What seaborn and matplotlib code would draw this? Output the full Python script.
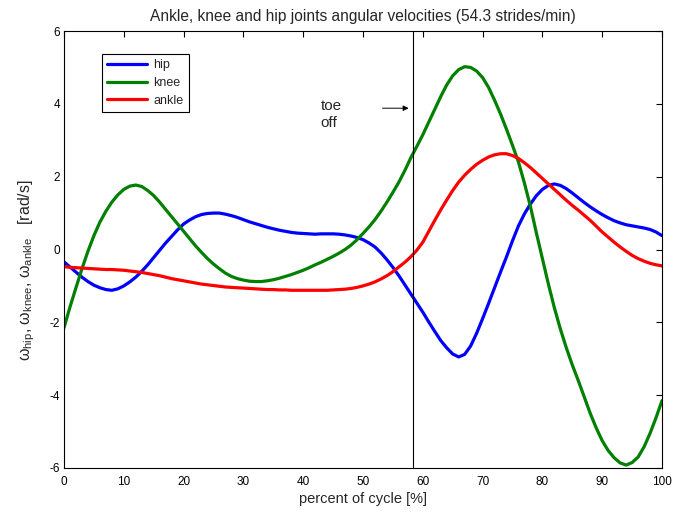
import numpy as np
import pandas as pd
import matplotlib
matplotlib.use("Agg")
import matplotlib.pyplot as plt
import seaborn as sns

percent = list(range(0, 101))

hip = [-0.34, -0.48, -0.62, -0.76, -0.88, -0.98, -1.05, -1.10, -1.12, -1.08,
       -1.00, -0.89, -0.76, -0.60, -0.42, -0.22, -0.02, 0.18, 0.36, 0.54,
       0.70, 0.81, 0.90, 0.96, 0.99, 1.00, 1.00, 0.97, 0.93, 0.88,
       0.82, 0.76, 0.71, 0.66, 0.61, 0.57, 0.53, 0.50, 0.47, 0.45,
       0.44, 0.43, 0.42, 0.43, 0.43, 0.43, 0.42, 0.40, 0.37, 0.33,
       0.27, 0.18, 0.07, -0.09, -0.28, -0.49, -0.72, -0.97, -1.22, -1.47,
       -1.72, -1.99, -2.25, -2.50, -2.70, -2.87, -2.95, -2.88, -2.65, -2.30,
       -1.90, -1.48, -1.05, -0.62, -0.20, 0.24, 0.65, 0.98, 1.25, 1.48,
       1.65, 1.76, 1.80, 1.76, 1.67, 1.55, 1.42, 1.29, 1.17, 1.06,
       0.96, 0.87, 0.79, 0.73, 0.68, 0.65, 0.62, 0.59, 0.55, 0.48, 0.38]

knee = [-2.15, -1.58, -1.05, -0.53, -0.05, 0.38, 0.75, 1.05, 1.30, 1.50,
        1.65, 1.74, 1.77, 1.73, 1.62, 1.48, 1.30, 1.10, 0.90, 0.70,
        0.50, 0.30, 0.10, -0.08, -0.25, -0.40, -0.53, -0.65, -0.74, -0.80,
        -0.84, -0.87, -0.88, -0.88, -0.86, -0.83, -0.79, -0.74, -0.69, -0.63,
        -0.57, -0.50, -0.42, -0.35, -0.27, -0.19, -0.10, 0.00, 0.12, 0.27,
        0.44, 0.62, 0.82, 1.05, 1.30, 1.57, 1.85, 2.17, 2.52, 2.83,
        3.15, 3.50, 3.85, 4.20, 4.52, 4.77, 4.94, 5.02, 5.00, 4.90,
        4.72, 4.45, 4.10, 3.72, 3.30, 2.86, 2.40, 1.82, 1.18, 0.45,
        -0.25, -0.95, -1.60, -2.18, -2.70, -3.17, -3.60, -4.05, -4.50, -4.90,
        -5.25, -5.52, -5.72, -5.86, -5.92, -5.85, -5.70, -5.42, -5.05, -4.62, -4.15]

ankle = [-0.47, -0.49, -0.50, -0.51, -0.52, -0.53, -0.54, -0.55, -0.55, -0.56,
         -0.57, -0.59, -0.61, -0.63, -0.66, -0.69, -0.72, -0.76, -0.80, -0.83,
         -0.86, -0.89, -0.92, -0.95, -0.97, -0.99, -1.01, -1.03, -1.04, -1.05,
         -1.06, -1.07, -1.08, -1.09, -1.10, -1.10, -1.11, -1.11, -1.12, -1.12,
         -1.12, -1.12, -1.12, -1.12, -1.12, -1.11, -1.10, -1.09, -1.07, -1.04,
         -1.00, -0.95, -0.89, -0.81, -0.72, -0.61, -0.48, -0.35, -0.20, -0.02,
         0.20, 0.50, 0.80, 1.09, 1.36, 1.62, 1.85, 2.04, 2.20, 2.34,
         2.45, 2.54, 2.60, 2.63, 2.63, 2.58, 2.50, 2.38, 2.25, 2.10,
         1.95, 1.80, 1.65, 1.50, 1.35, 1.21, 1.08, 0.94, 0.80, 0.64,
         0.48, 0.34, 0.20, 0.07, -0.05, -0.16, -0.25, -0.32, -0.38, -0.42, -0.45]

joints = ["hip", "knee", "ankle"]
colors = ["#0000FF", "#008000", "#FF0000"]
toe_off = 58.4
title = "Ankle, knee and hip joints angular velocities (54.3 strides/min)"
xlabel = "percent of cycle [%]"
ylabel = r"$\omega_{hip}$, $\omega_{knee}$, $\omega_{ankle}$   [rad/s]"
xticks = list(range(0, 101, 10))
yticks = list(range(-6, 7, 2))

df = pd.DataFrame({
    "percent": percent * 3,
    "omega": hip + knee + ankle,
    "joint": [j for j in joints for _ in percent],
})

sns.set_style("white")
plt.rcParams["font.family"] = ["Liberation Sans", "DejaVu Sans"]
plt.rcParams["mathtext.default"] = "regular"
plt.rcParams["axes.unicode_minus"] = False

fig = plt.figure(figsize=(6.88, 5.14), dpi=100)
ax = fig.add_axes([64/688, 46/514, 598/688, 437/514])

sns.lineplot(data=df, x="percent", y="omega", hue="joint", hue_order=joints,
             palette=colors, linewidth=2.3, ax=ax, sort=False)
for ln in ax.lines:
    ln.set_solid_joinstyle("round")
    ln.set_solid_capstyle("round")

ax.axvline(toe_off, color="black", linewidth=0.8)
ax.annotate("", xy=(toe_off - 0.3, 3.88), xytext=(52.8, 3.88),
            arrowprops=dict(arrowstyle="-|>", color="black", lw=0.7,
                            mutation_scale=8))
ax.text(42.9, 4.12, "toe\noff", fontsize=11, va="top", ha="left",
        linespacing=1.25)

ax.set_xlim(0, 100)
ax.set_ylim(-6, 6)
ax.set_xticks(xticks)
ax.set_yticks(yticks)
ax.tick_params(direction="in", top=True, right=True, length=4, width=0.8,
               labelsize=8.5, colors="black", pad=3)
ax.tick_params(axis="x", pad=6)
for s in ax.spines.values():
    s.set_color("black")
    s.set_linewidth(0.8)

ax.set_title(title, fontsize=11.2, pad=7)
ax.set_xlabel(xlabel, fontsize=10.5, labelpad=3)
ax.set_ylabel(ylabel, fontsize=11.5)
ax.yaxis.set_label_coords(-0.045, 0.453)

leg = ax.legend(loc="upper left", bbox_to_anchor=(0.0635, 0.947),
                borderaxespad=0, fontsize=9, handlelength=3.2,
                labelspacing=0.45, frameon=True, fancybox=False,
                edgecolor="black", framealpha=1, handletextpad=0.5,
                borderpad=0.42)
leg.get_frame().set_linewidth(0.8)

fig.savefig("out.png", dpi=100)
